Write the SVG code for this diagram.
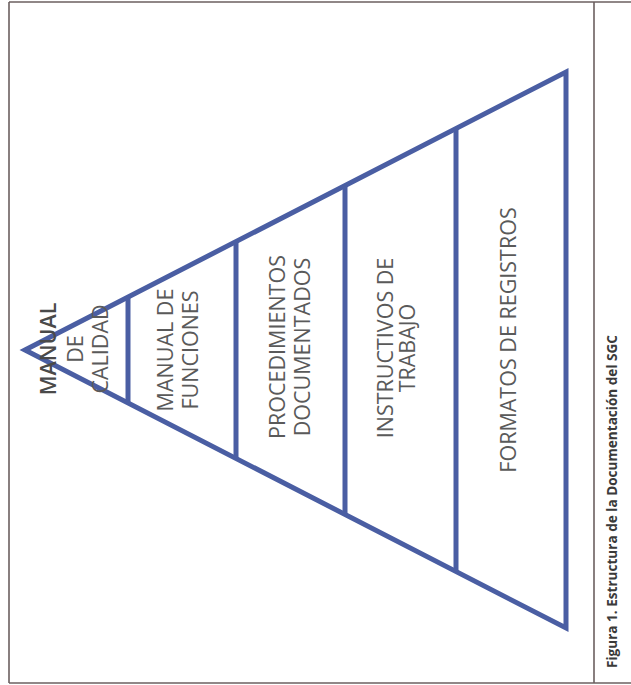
<svg xmlns="http://www.w3.org/2000/svg" width="631" height="685" viewBox="0 0 631 685">
  <style>
    .frame { fill: none; stroke: #6b5f5f; stroke-width: 1.6; }
    .edge { fill: none; stroke: #4a5ea3; stroke-width: 5; stroke-linejoin: miter; stroke-linecap: butt; }
    .lbl { font-family: "Open Sans", "Liberation Sans", sans-serif; font-size: 21.5px; fill: #5a5a5a; text-anchor: middle; }
    .top { fill: #4a4a4a; font-weight: 600; }
    .cap { font-family: "Open Sans", "Liberation Sans", sans-serif; font-size: 14px; font-weight: bold; fill: #3a3a3a; }
  </style>

  <rect width="631" height="685" fill="#ffffff"/>

  <!-- page frame and caption column -->
  <g id="frame">
    <line class="frame" x1="9" y1="2" x2="631" y2="2"/>
    <line class="frame" x1="9" y1="683" x2="631" y2="683"/>
    <line class="frame" x1="9" y1="2" x2="9" y2="683"/>
    <line class="frame" x1="594" y1="2" x2="594" y2="683"/>
  </g>

  <!-- pyramid outline and level dividers -->
  <g id="connectors">
    <polygon class="edge" points="25,350 566,72 566,628"/>
    <line class="edge" x1="128" y1="297" x2="128" y2="403"/>
    <line class="edge" x1="236" y1="241" x2="236" y2="459"/>
    <line class="edge" x1="345" y1="185" x2="345" y2="515"/>
    <line class="edge" x1="456" y1="128" x2="456" y2="572"/>
  </g>

  <g id="level1" transform="translate(0,349) rotate(-90)">
    <text class="lbl top" x="0" y="56">MANUAL</text>
    <text class="lbl" x="0" y="83">DE</text>
    <text class="lbl" x="0" y="108">CALIDAD</text>
  </g>

  <g id="level2" transform="translate(0,350) rotate(-90)">
    <text class="lbl" x="0" y="173">MANUAL DE</text>
    <text class="lbl" x="0" y="198">FUNCIONES</text>
  </g>

  <g id="level3" transform="translate(0,347) rotate(-90)">
    <text class="lbl" x="0" y="285">PROCEDIMIENTOS</text>
    <text class="lbl" x="0" y="310">DOCUMENTADOS</text>
  </g>

  <g id="level4" transform="translate(0,348) rotate(-90)">
    <text class="lbl" x="0" y="393">INSTRUCTIVOS DE</text>
    <text class="lbl" x="0" y="415">TRABAJO</text>
  </g>

  <g id="level5" transform="translate(0,340) rotate(-90)">
    <text class="lbl" x="0" y="516">FORMATOS DE REGISTROS</text>
  </g>

  <g id="caption" transform="translate(0,668) rotate(-90)">
    <text class="cap" x="0" y="617" textLength="333" lengthAdjust="spacingAndGlyphs">Figura 1. Estructura de la Documentación del SGC</text>
  </g>
</svg>
